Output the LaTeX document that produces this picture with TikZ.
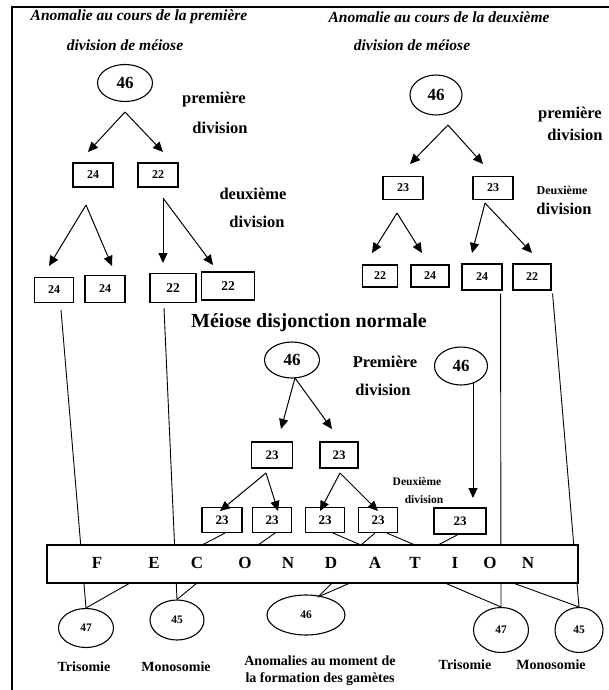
\documentclass[tikz,border=0pt]{standalone}
\usepackage{fontspec}
\setmainfont{Liberation Serif}
\usetikzlibrary{arrows.meta,shapes.geometric,calc}
\tikzset{
  bx/.style 2 args={draw, line width=1.1pt, minimum width=#1pt, minimum height=#2pt, inner sep=0pt},
  ov/.style 2 args={draw, ellipse, line width=1.1pt, minimum width=#1pt, minimum height=#2pt, inner sep=0pt},
  fs/.style={font=\bfseries\fontsize{#1}{#1}\selectfont},
  arr/.style={-{Triangle[length=10pt,width=9pt]}, line width=1pt},
  ln/.style={line width=0.9pt},
  lbl/.style={inner sep=0pt, fs=16.5},
  ttl/.style={inner sep=0pt, font=\bfseries\itshape\fontsize{15.5}{15.5}\selectfont},
  lett/.style={inner sep=0pt, fs=17},
}
\begin{document}
\begin{tikzpicture}[x=1pt,y=-1pt]
\useasboundingbox (0,0) rectangle (609,690);
\draw[line width=2.5pt] (12,690) -- (12,7) -- (609,7);

% titles
\node[ttl] (tl1) at (139,17) {Anomalie au cours de la première};
\node[ttl] (tl2) at (125,45) {division de méiose};
\node[ttl] (tr1) at (439,17) {Anomalie au cours de la deuxième};
\node[ttl] (tr2) at (412,45) {division de méiose};

% ---------- left tree
\node[ov={55}{37}, fs=17] (eL) at (125,83) {46};
\node[lbl] (pL1) at (214,100) {première};
\node[lbl] (pL2) at (220,128) {division};
\coordinate (aL1) at (125,112);
\coordinate (tL1a) at (88,152);
\coordinate (tL1b) at (163,152);
\draw[arr] (aL1) -- (tL1a);
\draw[arr] (aL1) -- (tL1b);
\node[bx={40}{24}, fs=12] (bL24) at (93,175) {24};
\node[bx={40}{24}, fs=12] (bL22) at (158,175) {22};
\node[lbl] (dL1) at (253,194) {deuxième};
\node[lbl] (dL2) at (257,222) {division};
\coordinate (aL2) at (86,205);
\coordinate (tL2a) at (49,266);
\coordinate (tL2b) at (112,266);
\coordinate (aL3) at (163,198);
\coordinate (tL3a) at (163,263);
\coordinate (tL3b) at (213,265);
\draw[arr] (aL2) -- (tL2a);
\draw[arr] (aL2) -- (tL2b);
\draw[arr] (aL3) -- (tL3a);
\draw[arr] (aL3) -- (tL3b);
\node[bx={39}{25}, fs=12] (bL24a) at (54,290) {24};
\node[bx={40}{27}, fs=12] (bL24b) at (105,289) {24};
\node[bx={46}{29}, fs=13.5] (bL22a) at (173,288) {22};
\node[bx={53}{28}, fs=13.5] (bL22b) at (228,286) {22};

% ---------- right tree
\node[ov={52}{40}, fs=17] (eR) at (436,95) {46};
\node[lbl] (pR1) at (570,115) {première};
\node[lbl] (pR2) at (575,135) {division};
\coordinate (aR1) at (448,125);
\coordinate (tR1a) at (410,164);
\coordinate (tR1b) at (483,164);
\draw[arr] (aR1) -- (tR1a);
\draw[arr] (aR1) -- (tR1b);
\node[bx={40}{23}, fs=12] (bR23a) at (403,188) {23};
\node[bx={40}{23}, fs=12] (bR23b) at (493,188) {23};
\node[inner sep=0pt, fs=12] (dR1) at (562,190) {Deuxième};
\node[lbl] (dR2) at (564,209) {division};
\coordinate (aR2) at (397,213);
\coordinate (tR2a) at (372,253);
\coordinate (tR2b) at (422,253);
\coordinate (aR3) at (485,203);
\coordinate (tR3a) at (472,253);
\coordinate (tR3b) at (532,253);
\draw[arr] (aR2) -- (tR2a);
\draw[arr] (aR2) -- (tR2b);
\draw[arr] (aR3) -- (tR3a);
\draw[arr] (aR3) -- (tR3b);
\node[bx={35}{22}, fs=12] (bR22c) at (380,276) {22};
\node[bx={38}{22}, fs=12] (bR24c) at (430,276) {24};
\node[bx={40}{26}, fs=12] (bR24d) at (482,277) {24};
\node[bx={38}{26}, fs=12] (bR22d) at (532,277) {22};

% ---------- middle: normal meiosis
\node[inner sep=0pt, fs=20] (mTitle) at (309,323) {Méiose disjonction normale};
\node[ov={55}{36}, fs=17] (eM) at (292,360) {46};
\node[ov={53}{38}, fs=17] (eM2) at (461,366) {46};
\node[lbl] (pM1) at (385,362) {Première};
\node[lbl] (pM2) at (383,390) {division};
\coordinate (aM) at (295,378);
\coordinate (tMa) at (281,429);
\coordinate (tMb) at (332,429);
\draw[arr] (aM) -- (tMa);
\draw[arr] (aM) -- (tMb);
\node[bx={41}{26}, fs=13] (bM23a) at (272,455) {23};
\node[bx={38}{26}, fs=13] (bM23b) at (339,455) {23};
\node[inner sep=0pt, fs=11.5] (dM1) at (417,482) {Deuxième};
\node[inner sep=0pt, fs=11.5] (dM2) at (424,500) {division};
\coordinate (aMa) at (266,473);
\coordinate (tMa1) at (220,511);
\coordinate (tMa2) at (278,511);
\coordinate (aMb) at (340,473);
\coordinate (tMb1) at (320,511);
\coordinate (tMb2) at (378,511);
\coordinate (aM2) at (473,383);
\coordinate (tM2) at (473,498);
\draw[arr] (aM2) -- (tM2);
\node[bx={40}{25}, fs=13] (m1) at (222,520) {23};
\node[bx={39}{25}, fs=13] (m2) at (272,520) {23};
\node[bx={39}{25}, fs=13] (m3) at (325,520) {23};
\node[bx={39}{25}, fs=13] (m4) at (378,520) {23};
\node[bx={52}{26}, fs=13] (m5) at (460,521) {23};
\draw[arr] (aMa) -- (tMa1);
\draw[arr] (aMa) -- (tMa2);
\draw[arr] (aMb) -- (tMb1);
\draw[arr] (aMb) -- (tMb2);

% ---------- bottom results
\node[ov={55}{39}, fs=11.5] (c47L) at (86,628) {47};
\node[ov={54}{40}, fs=11.5] (c45L) at (177,620) {45};
\node[ov={78}{40}, fs=11.5] (e46B) at (306,615) {46};
\node[ov={55}{45}, fs=11.5] (c47R) at (501,630) {47};
\node[ov={48}{45}, fs=11.5] (c45R) at (579,630) {45};
\node[inner sep=0pt, fs=14] (tri1) at (84,667) {Trisomie};
\node[inner sep=0pt, fs=14] (mono1) at (176,667) {Monosomie};
\node[inner sep=0pt, align=center, font=\bfseries\fontsize{14}{17}\selectfont] (anom) at (320,671) {Anomalies au moment de\\la formation des gamètes};
\node[inner sep=0pt, fs=14] (tri2) at (465,665) {Trisomie};
\node[inner sep=0pt, fs=14] (mono2) at (551,665) {Monosomie};

% long lines through the fecondation bar
\draw[ln] ($(bL24a.south)+(7,7)$) -- (c47L.north);
\draw[ln] ($(bL22a.south)+(-9,5)$) -- (c45L.north);
\draw[ln] ($(bR24d.south east)+(-2,3)$) -- (c47R.north);
\draw[ln] ($(bR22d.south east)+(1,3)$) -- (c45R.north);

% fecondation bar
\node[draw, fill=white, line width=1.2pt, minimum width=531pt, minimum height=38pt, inner sep=0pt] (fec) at (312.5,564) {};
\node[lett] (l1) at (97,563) {F};
\node[lett] (l2) at (154,563) {E};
\node[lett] (l3) at (197,563) {C};
\node[lett] (l4) at (245,563) {O};
\node[lett] (l5) at (288,563) {N};
\node[lett] (l6) at (331,563) {D};
\node[lett] (l7) at (375,563) {A};
\node[lett] (l8) at (415,563) {T};
\node[lett] (l9) at (455,563) {I};
\node[lett] (l10) at (490,563) {O};
\node[lett] (l11) at (528,563) {N};

% connection points on the bar
\coordinate (f1) at (202,545);
\coordinate (f2) at (258,545);
\coordinate (f3) at (361,545);
\coordinate (f4) at (415,545);
\coordinate (f5) at (438,545);
\coordinate (g1) at (130,583);
\coordinate (g2) at (197,583);
\coordinate (g3) at (332,583);
\coordinate (g4) at (350,583);
\coordinate (g5) at (445,583);
\coordinate (g6) at (513,583);
\coordinate (p46) at (318,597);

% short gamete lines to the bar
\draw[ln] ($(m1.south)+(3,0)$) -- (f1);
\draw[ln] ($(m2.south)+(3,0)$) -- (f2);
\draw[ln] ($(m3.south)+(8,0)$) -- (f3);
\draw[ln] ($(m4.south)+(-3,0)$) -- (f3);
\draw[ln] ($(m4.south)+(9,0)$) -- (f4);
\draw[ln] ($(m5.south)+(-2,0)$) -- (f5);

% short lines from the bar to the zygotes
\draw[ln] (g1) -- (c47L.north);
\draw[ln] (g2) -- (c45L.north);
\draw[ln] (g3) -- (p46);
\draw[ln] (g4) -- (p46);
\draw[ln] (g5) -- (c47R.north);
\draw[ln] (g6) -- (c45R.north);
\end{tikzpicture}
\end{document}
